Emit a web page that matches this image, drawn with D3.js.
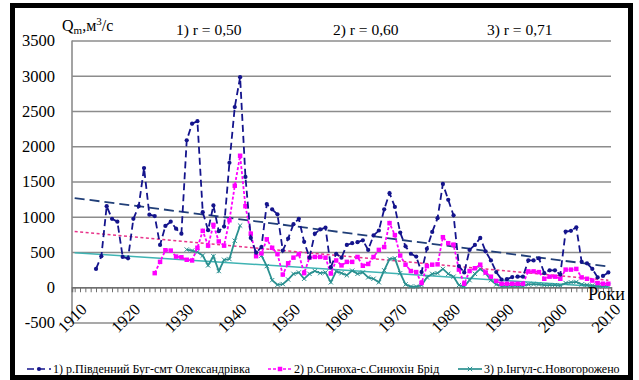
<!DOCTYPE html>
<html>
<head>
<meta charset="utf-8">
<script src="https://cdn.jsdelivr.net/npm/d3@7"></script>
<style>
  html, body { margin: 0; padding: 0; background: #fff; }
  svg { display: block; font-family: "Liberation Serif", "Times New Roman", serif; }
</style>
</head>
<body>
<div id="chart"></div>
<script>
// categories
const years = d3.range(1910, 2011)
const xLabelYears = [1910, 1920, 1930, 1940, 1950, 1960, 1970, 1980, 1990, 2000, 2010]
const yTicks = [-500, 0, 500, 1000, 1500, 2000, 2500, 3000, 3500]

// 1) р.Південний Буг-смт Олександрівка, from 1914
const bugStart = 1914
const bugValues = [
  260, 440, 1150, 970, 930, 430,                                // 1914-1919
  410, 970, 1150, 1690, 1030, 1010, 600, 870, 930, 830,          // 1920-1929
  760, 2085, 2320, 2355, 1065, 810, 1160, 795, 860, 1765,        // 1930-1939
  2555, 2980, 1565, 700, 490, 570, 1180, 1105, 1035, 520,        // 1940-1949
  690, 895, 970, 645, 420, 760, 820, 845, 285, 475,              // 1950-1959
  420, 600, 625, 640, 665, 530, 735, 805, 1105, 1335,            // 1960-1969
  1140, 775, 580, 475, 435, 215, 545, 785, 980, 1465,            // 1970-1979
  1240, 1020, 300, 210, 530, 600, 700, 510, 380, 215,            // 1980-1989
  110, 115, 145, 150, 150, 380, 380, 410, 200, 240,              // 1990-1999
  240, 180, 790, 800, 850, 360, 340, 260, 140, 160,              // 2000-2009
  210                                                            // 2010
]

// 2) р.Синюха-с.Синюхін Брід, from 1925
const synStart = 1925
const synValues = [
  200, 360, 525, 520, 435,                                       // 1925-1929
  425, 390, 380, 560, 800, 590, 885, 650, 590, 950,              // 1930-1939
  1440, 1865, 1150, 760, 440, 480, 680, 560, 470, 180,           // 1940-1949
  340, 420, 470, 200, 420, 430, 430, 420, 195, 380,              // 1950-1959
  310, 360, 360, 430, 305, 330, 430, 530, 570, 910,              // 1960-1969
  740, 450, 320, 230, 215, 60, 300, 320, 325, 710,               // 1970-1979
  625, 605, 250, 50, 230, 270, 320, 210, 150, 90,                // 1980-1989
  50, 50, 50, 50, 50, 225, 225, 215, 120, 150,                   // 1990-1999
  150, 120, 250, 250, 260, 140, 120, 95, 60, 50,                 // 2000-2009
  50                                                             // 2010
]

// 3) р.Інгул-с.Новогорожено, from 1931 (no data 1942-1944)
const ingStart = 1931
const ingValues = [
  535, 520, 500, 450, 310, 440, 230, 390, 400,                   // 1931-1939
  660, 875, null, null, null, 450, 300, 100, 35, 45,             // 1940-1949
  110, 190, 210, 120, 190, 230, 200, 210, 70, 225,               // 1950-1959
  200, 170, 235, 190, 210, 140, 120, 70, 240, 400,               // 1960-1969
  410, 200, 40, 10, 10, 30, 140, 190, 200, 260,                  // 1970-1979
  190, 150, 30, 10, 100, 190, 260, 200, 100, 40,                 // 1980-1989
  15, 20, 20, 25, 20, 40, 45, 40, 30, 30,                        // 1990-1999
  30, 25, 60, 70, 75, 40, 35, 25, 15, 15,                        // 2000-2009
  20                                                             // 2010
]

// linear trends read at 1910 and 2010
const trendYears = [1910, 2010]
const bugTrend = [1265, 295]
const synTrend = [790, 100]
const ingTrend = [490, 0]

const rLabels = ['1) r = 0,50', '2) r = 0,60', '3) r = 0,71']
const legendNames = [
  '1) р.Південний Буг-смт Олександрівка',
  '2) р.Синюха-с.Синюхін Брід',
  '3) р.Інгул-с.Новогорожено'
]

const width = 639
const height = 380
const plotLeft = 72, plotRight = 611, plotTop = 40.5, plotBottom = 322.5

const svg = d3.select('#chart').append('svg')
  .attr('width', width)
  .attr('height', height)

const x = d3.scalePoint()
  .domain(years)
  .range([plotLeft, plotRight])
  .padding(0.5)

const y = d3.scaleLinear()
  .domain([-500, 3500])
  .range([plotBottom, plotTop])

// grid + y labels
const yAxis = svg.append('g')
  .attr('transform', `translate(${plotLeft},0)`)
  .call(d3.axisLeft(y)
    .tickValues(yTicks)
    .tickSize(-(plotRight - plotLeft))
    .tickPadding(17)
    .tickFormat(d => String(d)))
yAxis.attr('font-family', null).attr('font-size', null)
yAxis.select('.domain').remove()
yAxis.selectAll('line')
  .attr('stroke', '#8c8c8c')
  .attr('stroke-width', 1.6)
yAxis.selectAll('text')
  .style('font-size', '16.5px')
  .attr('fill', '#000')

// vertical axis line
svg.append('line')
  .attr('x1', plotLeft).attr('x2', plotLeft)
  .attr('y1', plotTop).attr('y2', plotBottom)
  .attr('stroke', '#8c8c8c')
  .attr('stroke-width', 1.6)

// category axis at zero
const xAxis = svg.append('g')
  .attr('transform', `translate(0,${y(0)})`)
  .call(d3.axisBottom(x).tickSize(5).tickFormat(''))
xAxis.select('.domain')
  .attr('stroke', '#707070')
  .attr('stroke-width', 1.6)
xAxis.selectAll('line')
  .attr('stroke', '#707070')

// rotated year labels
svg.append('g')
  .selectAll('text')
  .data(xLabelYears)
  .join('text')
  .attr('transform', d => `translate(${x(d) + 5},${y(0) + 15}) rotate(-45)`)
  .attr('text-anchor', 'end')
  .attr('dy', '0.7em')
  .style('font-size', '16.5px')
  .text(d => d)

const toPoints = (start, vals) => vals.map((v, i) => ({ year: start + i, v: v }))
const bug = toPoints(bugStart, bugValues)
const syn = toPoints(synStart, synValues)
const ing = toPoints(ingStart, ingValues)

const line = d3.line()
  .defined(d => d.v != null)
  .x(d => x(d.year))
  .y(d => y(d.v))

const trendPts = vals => trendYears.map((yr, i) => ({ year: yr, v: vals[i] }))

// trend lines
svg.append('path')
  .datum(trendPts(ingTrend))
  .attr('d', line)
  .attr('fill', 'none')
  .attr('stroke', '#3fb3b3')
  .attr('stroke-width', 1.5)

svg.append('path')
  .datum(trendPts(synTrend))
  .attr('d', line)
  .attr('fill', 'none')
  .attr('stroke', '#e8338a')
  .attr('stroke-width', 1.5)
  .attr('stroke-dasharray', '3,2.5')

svg.append('path')
  .datum(trendPts(bugTrend))
  .attr('d', line)
  .attr('fill', 'none')
  .attr('stroke', '#213f78')
  .attr('stroke-width', 1.8)
  .attr('stroke-dasharray', '10,5')

// series
const series = [
  { data: ing, color: '#2a9090', dash: null, sym: d3.symbolX, size: 14, stroke: true },
  { data: syn, color: '#ff00ff', dash: '3,2', sym: d3.symbolSquare, size: 20, stroke: false },
  { data: bug, color: '#14148c', dash: '7,4', sym: d3.symbolCircle, size: 14, stroke: false }
]

series.forEach(s => {
  svg.append('path')
    .datum(s.data)
    .attr('d', line)
    .attr('fill', 'none')
    .attr('stroke', s.color)
    .attr('stroke-width', 1.8)
    .attr('stroke-dasharray', s.dash)

  svg.append('g')
    .selectAll('path')
    .data(s.data.filter(d => d.v != null))
    .join('path')
    .attr('transform', d => `translate(${x(d.year)},${y(d.v)})`)
    .attr('d', d3.symbol(s.sym, s.size))
    .attr('fill', s.stroke ? 'none' : s.color)
    .attr('stroke', s.stroke ? s.color : 'none')
    .attr('stroke-width', 1)
})

// titles
const qLabel = svg.append('text')
  .attr('x', 62)
  .attr('y', 31)
  .style('font-size', '16px')
qLabel.append('tspan').text('Q')
qLabel.append('tspan').attr('dy', 3).style('font-size', '11px').text('m')
qLabel.append('tspan').attr('dy', -3).text(',м')
qLabel.append('tspan').attr('dy', -6).style('font-size', '11px').text('3')
qLabel.append('tspan').attr('dy', 6).text('/с')

svg.append('g')
  .selectAll('text')
  .data(rLabels)
  .join('text')
  .attr('x', (d, i) => [176, 333, 487][i])
  .attr('y', 35)
  .style('font-size', '15.5px')
  .text(d => d)

svg.append('text')
  .attr('x', 588)
  .attr('y', 300)
  .style('font-size', '18px')
  .text('Роки')

// legend
const legendX = [27, 268, 458]
const legend = svg.append('g')
  .selectAll('g')
  .data(legendNames)
  .join('g')
  .attr('transform', (d, i) => `translate(${legendX[i]},369)`)

const legendStyle = [series[2], series[1], series[0]]
legend.append('line')
  .attr('x1', 0).attr('x2', 24)
  .attr('stroke', (d, i) => legendStyle[i].color)
  .attr('stroke-width', 1.7)
  .attr('stroke-dasharray', (d, i) => legendStyle[i].dash)
legend.append('path')
  .attr('transform', 'translate(12,0)')
  .attr('d', (d, i) => d3.symbol(legendStyle[i].sym, legendStyle[i].size)())
  .attr('fill', (d, i) => legendStyle[i].stroke ? 'none' : legendStyle[i].color)
  .attr('stroke', (d, i) => legendStyle[i].stroke ? legendStyle[i].color : 'none')
legend.append('text')
  .attr('x', 26)
  .attr('dy', '0.35em')
  .style('font-size', '12px')
  .text(d => d)

// frame
svg.append('rect')
  .attr('x', 12.5).attr('y', 5.5)
  .attr('width', 618).attr('height', 372)
  .attr('fill', 'none')
  .attr('stroke', '#000')
  .attr('stroke-width', 5)
</script>
</body>
</html>
